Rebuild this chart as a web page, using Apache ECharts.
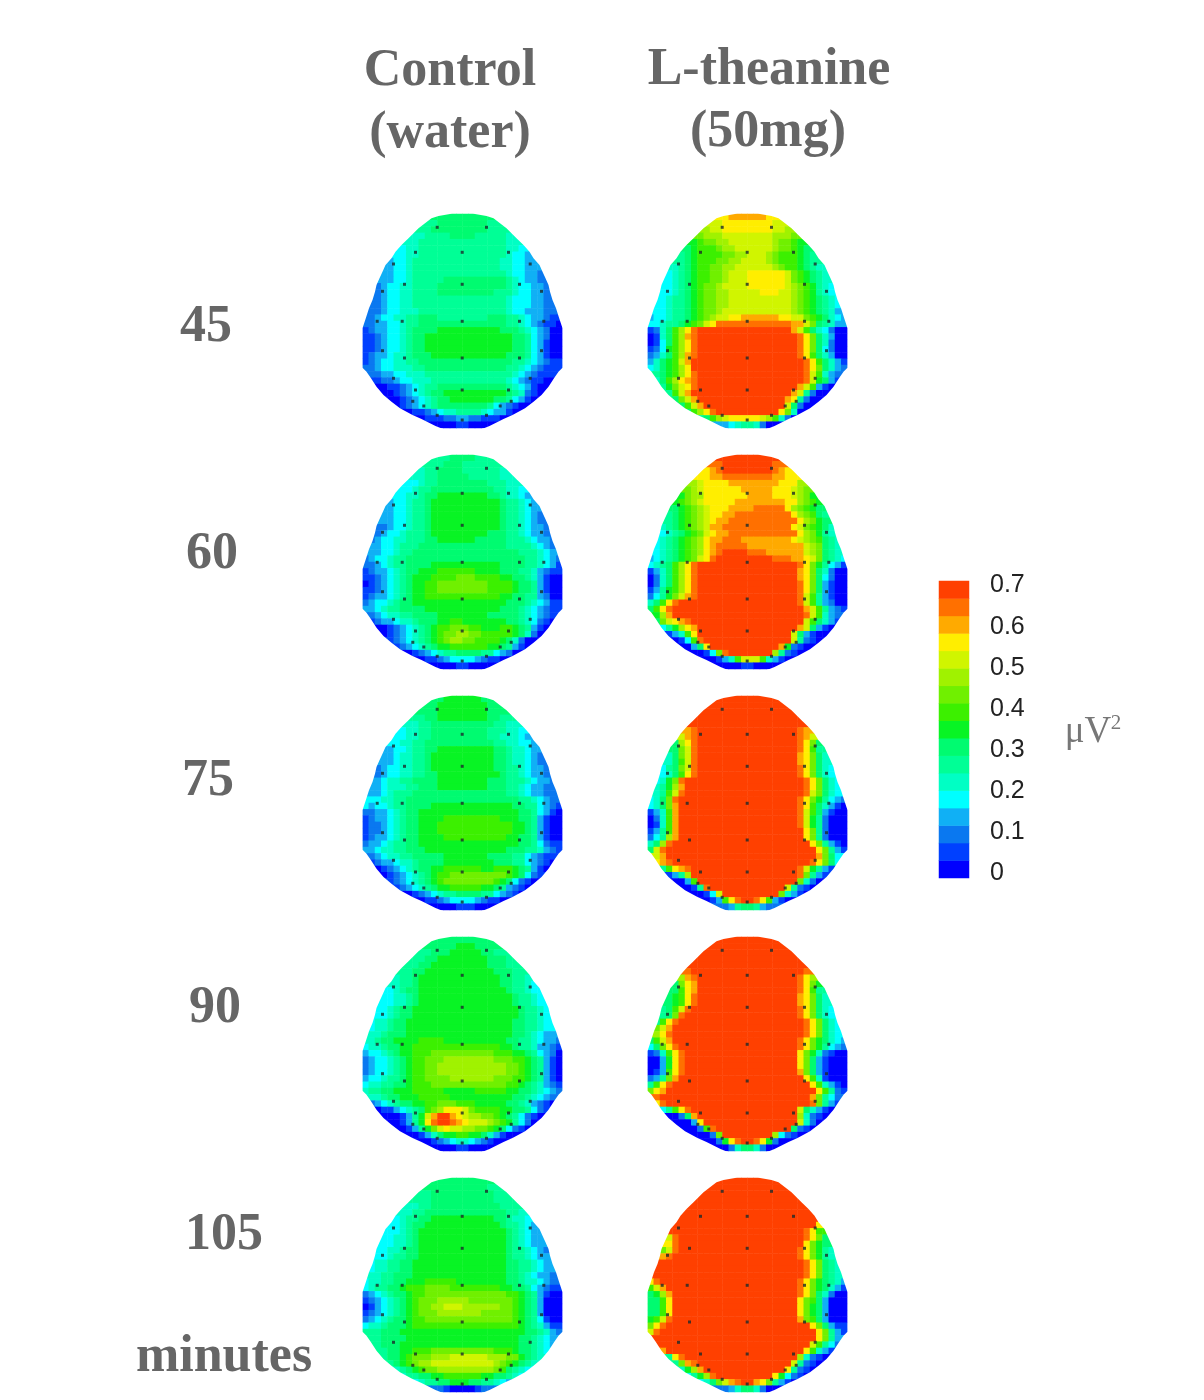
<!DOCTYPE html>
<html><head><meta charset="utf-8"><title>Topographic maps</title>
<style>html,body{margin:0;padding:0;background:#fff}#c{width:1204px;height:1400px}</style>
<script src="https://cdn.jsdelivr.net/npm/echarts@6/dist/echarts.min.js"></script></head>
<body><div id="c"></div><script>
// Level codes a..q = 17 colour-scale steps; "q16" = sixteen cells of level q. Rows are centred on the head.
const levelCodes = 'abcdefghijklmnopq';
const palette = ['#0000ff','#0040ff','#0a78f0','#10b0f5','#00ffff','#00ffc4','#00ff96','#00fb70','#08f424','#3cf000','#70f000','#a0f200','#d0f500','#ffee00','#ffaa00','#ff7000','#ff4000'];
const scaleTicks = [0,0.1,0.2,0.3,0.4,0.5,0.6,0.7];
const electrodeX = [74.7,124,53,99.7,146,31,167.7,42,99.7,157,20,179,14.7,39.7,99.7,157,181.3,20,179,42,99.7,157,31,167.7,53,99.7,146,50.3,148.7,61.3,137.7,74.7,124,99.7];
const electrodeY = [13.3,13.3,38.3,38.3,38.3,50,50,70.3,70.3,70.3,77.3,77.3,107.3,107.3,107.3,107.3,107.3,136.7,136.7,144,144,144,164.3,164.3,176,176,176,187.3,187.3,192,192,201.3,201.3,206];
const outlineY = [0,2,4.3,9.3,14.3,19.3,24.3,31,37.7,44.3,51,57.7,64.3,71,77.7,86,94.3,104.3,114.3,153.7,157.7,164.3,172.7,181,187.7,194.3,201,205,209,212,214];
const outlineHalf = [12.5,24,31,37.5,44,49,54,61,67,71,77,80,83,86,87.5,90,93.5,96.7,100,100,96,91.5,86,79,71,62.5,50,41,33,27,22];

const control45 = ['h8','gh8g','g2h9g3','f2g4h4g5f','f2g14f2','ef2g14f2e','e2f2g14fe2d','de2fg14f2e2d2','de2fg14f2e2d2','d2e2fg15fe2d2c','d2e2fg5h10gfed2c','cde2f2g4h11gfe2d2c','cde2f2g4h9g3fe2d2c','c2de2f2g15fe3d2c2','c2de2f2g15fe3d2c2','c2de2f3g14fe2d3c2','c2de2f2g2h3g8h3g2fed2cb2','c2d2e2fg2h14g2fedcb2a','bcd2e2fgh4i10h3gfedca2','b2cde2fgh2i14h2gedca2','b2cde2fgh2i14h2gedba2','b2cde2fgh2i14h2gedba2','bcd2ef2gh3i12h3gedba2','bcde2f2g2h15g2fedcb2','c2de2f3g2h13g2fedcb3','c2d2e2f3g14fedcb3','b2c2de2f3g12fedcb2a2','a2b2cdefg2h11gfedba2','a2bcdefgh2i10hgfcba','a2bcdefgh2i7h2gedba','a2bcdefgh8gedcba2','a2b2cdef2g4fed2ba2','a2b3c2d2c2b3a2','a3b2a3'];
const theanine45 = ['no6n','mn8m','lm2n8m2l','kl3m8l3k','ijk2l2m7lk2ji','hij3kl2m6lk2jih','ghij4k2l2m3lkj3ihg','g2hij3k2l2m4lkj3ihg2','fghij2k2l2m6lkj2ihgf','efghij2k2lm3n6mkjihgf','efghij2k2lm3n6mkjihgf','e2fghijk2lm4n6mlkjigfe','e2fghijk2l2m5n3m2lkjigfe','e2fg2hijk2l2m10lkjihgfe','e2fg2hijk2l2m10lkjihgfe','e2fg2hijk2lm11lkjihgfd','de2fg2hijklm2n2o6n2m2kjihfed','e2fg2hijkmnp12o2mkhgfd','bcfhjlnpq15omjhfeca2','abfhjlopq16pnkhfda2','abehjlnpq16pnkhfca2','bceijlnpq16pnkheca2','cdfhjlopq16pnjhfda2','dfhijmoq18pnjhfdb','efhijlnq18pnkhfdc','ghijlnpq17pmjfdc','fhjlnopq17pmihdb','gikmnpq16omjdba','gjmoq16omgca2','hkmoq14ongca2','hjmoq13mhca2','hjlnpq10nkfa2','ghjlmn5mljfca','defg2fca'];
const control60 = ['g2h4g2','g2h3g5','fg2h4g6f','f2g2h5g5f2','e2fg2h8g3f2','e2fg2h10g2f2e','e2f2gh2i8h2gf2ed','de2fg2hi11hg2fed','de2fg2hi11hg2fed','d2e2fg2hi11hg2fedc','d2e2fg2hi11hg2fedc','c2de2fg2hi11hg2fed2c','cde2fg3hi9h3g2fed2c','cde2f2g3h2i6h5g3fed2c','d2e2fg3h14g4fedc','d2e2fg2h17g3fed','cde2fg2h19g2fedc','c2defg2h4i11h4g2fedb','bcd2efgh2i3j6i4h3g2fdcb2','b2cdefghi3j4k3j4i2h2gfdba2','abcdefghi2j2k8j4ih2gdba2','b2cdefghi2j2k8j4ih2gdba2','bcd2efghi2j12i2h2g2dca2','cde2fgh2i15h3gfedb2','d2efg2h4i12h3gfedcb2','cdef2g2h4i8h5gfedcb','bcd2ef2gh3i2j2i7h2gfecba','a2bcdefghij2k3j2i3j2ihgdba','abcdefghijk2l2k2j5ihfca','bcdefghijkl2k2j4ihfca2','bcdefghi2j6i2hgdba','a2bcdefg2h4g2edca2','a2b2cde4dcb2a2','a3b2a3'];
const theanine60 = ['q8','pq8p','nopq8pon','n2o2p8o2n2','lmn4o8n3l','klmn6o5n3mlk','ikl2n7o4n3mlki','ijklmn5o8n2lkji','hijklmn3o4p5nlkjih','ghijklmn2o2p9nlkjhg','ghijklmno2p11nlkih','fghijklmo2p11nmkjihf','efghijkmno2p11nlkigf','efghijklno2p3o8nmlkjhgf','efghijklnop5o9mlkhgf','efghijklnopq4p3o6mlkhgf','defghijkmnpq9p3o2nmkhgfe','efghjlnpq16pnkigedb','bdfhjlnpq16onkhfca2','acfhjlnpq16onkheca2','acfhjlnpq16pnkhdba2','bdgijlnpq16pnkhdba2','cegikmopq16pmjgdba2','fhjnpq19pmjgdca2','hjnpq21omjgdcb','iloq21pmjfdc','hkmnopq18mjhfdb','egilnoq16omhdba','bdfjnq15mhdba2','abejpq14mgcba','a2dhnq11oicba2','a3bekpq7lgcba2','a3bdfjm3jfdba2','a3b2a3'];
const control75 = ['hi6h','hi8h','h3i8h3','g2h2i8h2g2','f2g2h10g2f2','ef2g2h9g3f2e','e2f2g2h9g2f3ed','e2f2g2h11g2f2e2d','de2fg2h2i9h2gf2ed','d2ef2g2hi10h2gf2edc','d2ef2g2hi10h2gf2edc','cde2f2g2hi10h2g2fed2c','cde2f2g2h2i10hg2fed2c','d2ef2g2h4i8h3g3fed2c','d2ef3g2h3i8h3g2fed2c2','d2efg3h15g2fed2c2','e3f2g2h18g2fedc2','ede2fg2h4i13h2g2edcb','c2d2efgh2i16h2gedba','bcd2efgh2i4j9i3h2gdba2','bc2defgh2i3j12i2hgdba2','bc2defgh2i3j12i2hgdba2','bcd2efgh2i4j10i2h2gdba2','cd2efg2h2i16h2gecb2','d2ef2g2h3i13h3g2fdcb','cdef2g2h5i7h4g2edcb2','bcd2ef2gh4i8h3g2edcba','abcdefgh2i2j6i2j3ihgdba','abcdefghij2k9jihecb','bcdefghijk8jihecba','bcdefghi2j5i2hgdcba','a2bcdefg2h4g2edcba','a2b2cde4dcb2a2','a3b3a2'];
const theanine75 = ['q8','q10','q14','q16','q18','opq16po','mopq16pom','hlnpq16pnkh','hkmpq16pnjg','fhkmpq16onkhf','fhjmpq16onkhf','eghkmpq16pnkhfe','efhjnpq16pnkhfe','efikpq19pnkhfe','fgiloq19pnkhfe','fgjmpq19pmkhfe','efhkpq19pnkigedc','efhkoq19pnjhfdba','bdfjoq19pmjhdba2','acfjoq19pmigca3','abfjoq19pmigca3','bdgjoq20nkgca3','cegloq20nkgca3','fhlpq22nkgdba','hmpq24nkgdb','moq24okhe','nopq22pnkhe','gjnopq17pmigdb','bdglq17pkgdb','a2djq16kfca','a2bgpq12mgcba','a3bemq9kfdba','a2bdjnpq2pnjdba2','cdgh2gdc'];
const control90 = ['h8','h4i3h3','g2h3i5h2g2','g2h2i8h3g','g2h2i9h3g2','g2h2i11h3g2','fg2hi13h2g2f','f2g2hi13h2g2fe','efgh2i14hg2fe','e2f2ghi15hg2fe','e2f2ghi15hg2fe','e2fgh2i17hg2fe','e2fgh2i17hg2fe','ef2gh2i17h2g2fe2','ef2gh2i17h2g2fe2','f2gh3i17h2gfed2','f2gh2i4j4i10h2g2fed2c','ef2gh2i2j14i2hg2fd2cb','de2fghi2j3k10j3i2hgedca','cde2fghij2k3l8k3j2ihgdba','cde2fghij2k2l11k2jihgdba','cde2fghij2k2l11k2jihgdba','de2fg2hij2k4l7k3j2ihgdba','ef2g2h2ij3k12j2ihgfdcb','fg2h2i3j5i5j5i2h2gfedc','f2gh2i3j5i10h2gfedc','cdefgh2i2j2k3j3i5h2gfdcba','ab2defghjkln3mkj4i2h2gecb','a3bdgimoq2onml2k2jihgecba','a2bdginpq2ponm3lkjigeca','a2bdgikmnm2l2k2jihecba','a3bdfhi2j2i2hfdba3','a3bcdef2edcba3','a3b2a3'];
const theanine90 = ['q8','q10','q14','q16','q18','pq18p','lopq16pnl','hknoq16pnki','hjnoq16pnjg','hijnpq16onkhf','hijnpq16onkhf','ghjmpq17pnkhfe','ghkpq18pnkhfe','gjnpq20pnkhfe','kmoq21pnkhfe','lnpq21pnkhfe','hjmoq20pnkihfed','ehknpq19pnkigedc','bcfjnpq18nkifcba2','a2dinpq18nkhdba3','a2dinpq18nkhdba3','abdjnpq18okhdba3','cdgkoq20njfba3','gjnpq22njfdba','knoq24njgcb','pq24okgec','npq23pkgdb','egjnpq17mhfdba','a2choq16lfcba','a3dnq15mfca','a3cjpq12hcba','a4ckq8lecba2','a3cinpq2pnica3','acfh2fca'];
const control105 = ['h8','h9g','g2h10g2','g3h10g3','f2g2h11g3','f2g2h13g2f','efg2h2i10h2gf2e','e2fgh2i12hg2fed','e2fghi14hgfed','e2f2ghi14hgfed2','e2f2ghi14hgfed2','e2f2gh2i14hg2fedc','e2fg2h2i14hg2fed2','ef2g2h2i15h2g2fed2','ef2g2h2i15h2g2fed2','f2g2h3i15h2gfed2c','ef2g2h2i3j5i8h2gf2edc2','efg2h2ij3k4j8i2h2gedcb2','cdefgh2ij2k13j2ihgdba2','bcdefghijk3l5k7jihgda3','abdefghijk2l2m3l6k2jihgda3','bcdefghijk3l7k5jihgda3','cdefgh2ij2k14jihgeba2','ef2gh3ij17ihgfdb2','g3h3i20h2gfdc','g2h4i18h2gfed','g2h3i19h2gfed','g2h2i2j3k10j3ih2gfe','gh2ijk3l3m6l3k2ihgf','ghijkl2m10lkjihgf','fghijk2l9kjhgfe','fg2h2i2j6i2h2gfe','efg2h2i3h2g2fed','cba4bc'];
const theanine105 = ['q8','q10','q14','q16','q18','q20','q22','q23n','q21pnj','mpq20pnkh','npq20nkih','kmpq19pnkigf','opq20pnkigf','q24pnkhgf','q24pnkhgf','q24pnkhgf','npq22pnkihgfd','jmoq21pnkihfdb','hiloq20pnkhfca2','h2jnq20nkjhda3','h2jnq20nkihda3','h2jnq20nkihda3','ijmpq20okjhda3','knpq23nkhdb2','mpq25nkgdb','q26nkgd','q25mjgec','oq22njfdb','gnpq18lfcba','gkopq15mgcba','filoq13ngcba','egilpq9niecba','efhkmopq2onkgdba','cdfh2fca'];

const headSeries = [control45, theanine45, control60, theanine60, control75, theanine75, control90, theanine90, control105, theanine105];
const columnLefts = [362.5, 647.5];
const rowTops = [214, 455, 696, 937, 1178];
const COLS = 32, ROWS = 34, EDGE = 3;

function expand(row){ return row.replace(/([a-q])(\d*)/g, (m,c,n)=> c.repeat(n ? +n : 1)); }
function toCells(rows){
  const out = [];
  rows.forEach((r,y)=>{
    const s = expand(r), pad = Math.floor((COLS - s.length)/2);
    for (let i=-EDGE;i<s.length+EDGE;i++){
      const x = pad+i;
      if (x<0 || x>=COLS) continue;
      const ch = s[Math.max(0,Math.min(s.length-1,i))];
      out.push([x, y, levelCodes.indexOf(ch)]);
    }
  });
  return out;
}
// white trim outside the smooth head outline, placed through the value axes
function renderTrim(params, api){
  const c = 100;
  const side = sgn => {
    const pts = [[c+sgn*106,-6],[c,-6]];
    outlineY.forEach((y,i)=>pts.push([c+sgn*outlineHalf[i],y]));
    pts.push([c,220],[c+sgn*106,220]);
    return {type:'polygon',shape:{points:pts.map(p=>api.coord(p))},style:{fill:'#ffffff'}};
  };
  return {type:'group',children:[side(-1),side(1)]};
}
const idx = n => Array.from({length:n},(_,i)=>String(i));
const grid=[], xAxis=[], yAxis=[], series=[], heatIdx=[];
headSeries.forEach((rows,h)=>{
  const rect = {left:columnLefts[h%2], top:rowTops[Math.floor(h/2)], width:200, height:214};
  grid.push(rect); const g1 = grid.length-1;
  xAxis.push({type:'category',gridIndex:g1,data:idx(COLS),show:false});
  yAxis.push({type:'category',gridIndex:g1,data:idx(ROWS),inverse:true,show:false});
  heatIdx.push(series.length);
  series.push({type:'heatmap',xAxisIndex:g1,yAxisIndex:g1,data:toCells(rows),silent:true,progressive:0,itemStyle:{borderWidth:0}});
  grid.push(Object.assign({},rect)); const g2 = grid.length-1;
  xAxis.push({type:'value',gridIndex:g2,min:0,max:200,show:false});
  yAxis.push({type:'value',gridIndex:g2,min:0,max:214,inverse:true,show:false});
  series.push({type:'custom',xAxisIndex:g2,yAxisIndex:g2,silent:true,z:4,clip:false,renderItem:renderTrim,data:[[0,0]]});
  series.push({type:'scatter',xAxisIndex:g2,yAxisIndex:g2,symbol:'rect',symbolSize:3,silent:true,z:5,
    itemStyle:{color:'#1c2a2a'},data:electrodeX.map((x,i)=>[x,electrodeY[i]])});
});
// colour bar
grid.push({left:939,top:581,width:30,height:297});
let g = grid.length-1;
xAxis.push({type:'category',gridIndex:g,data:['0'],show:false});
yAxis.push({type:'category',gridIndex:g,data:idx(17),show:false});
heatIdx.push(series.length);
series.push({type:'heatmap',xAxisIndex:g,yAxisIndex:g,silent:true,progressive:0,data:palette.map((_,i)=>[0,i,i])});
// colour bar tick labels
grid.push({left:939,top:585.5,width:30,height:288});
g = grid.length-1;
xAxis.push({type:'value',gridIndex:g,show:false,min:0,max:1});
yAxis.push({type:'value',gridIndex:g,position:'right',min:scaleTicks[0],max:scaleTicks[7],interval:0.1,
  axisLine:{show:false},axisTick:{show:false},splitLine:{show:false},
  axisLabel:{show:true,margin:21,fontFamily:'Liberation Sans',fontSize:25,color:'#222'}});
series.push({type:'scatter',xAxisIndex:g,yAxisIndex:g,data:[],silent:true});

const serif = {fontFamily:'Liberation Serif',fontWeight:'bold',fill:'#666666',textAlign:'center',textVerticalAlign:'middle'};
const T = (text,x,y,size)=>({type:'text',x,y,silent:true,z:10,style:Object.assign({},serif,{text,fontSize:size})});
const graphic = [
  T('Control',450,72,52),T('(water)',450,134,52),T('L-theanine',769,71,52),T('(50mg)',768,133,52),
  T('45',206,328,52),T('60',212,555,52),T('75',208,782,52),T('90',215,1009,52),T('105',224,1236,52),T('minutes',224,1358,52),
  {type:'text',x:1088,y:732,silent:true,z:10,style:{text:'μV',fontFamily:'Liberation Serif',fontSize:37,fill:'#777777',textAlign:'center',textVerticalAlign:'middle'}},
  {type:'text',x:1116,y:723,silent:true,z:10,style:{text:'2',fontFamily:'Liberation Serif',fontSize:21,fill:'#777777',textAlign:'center',textVerticalAlign:'middle'}}
];
const chart = echarts.init(document.getElementById('c'),null,{width:1204,height:1400});
chart.setOption({
  animation:false,backgroundColor:'#ffffff',tooltip:{show:false},
  grid,xAxis,yAxis,graphic,series,
  visualMap:{type:'piecewise',show:false,seriesIndex:heatIdx,dimension:2,
    pieces:palette.map((color,value)=>({value,color}))}
});
</script></body></html>
